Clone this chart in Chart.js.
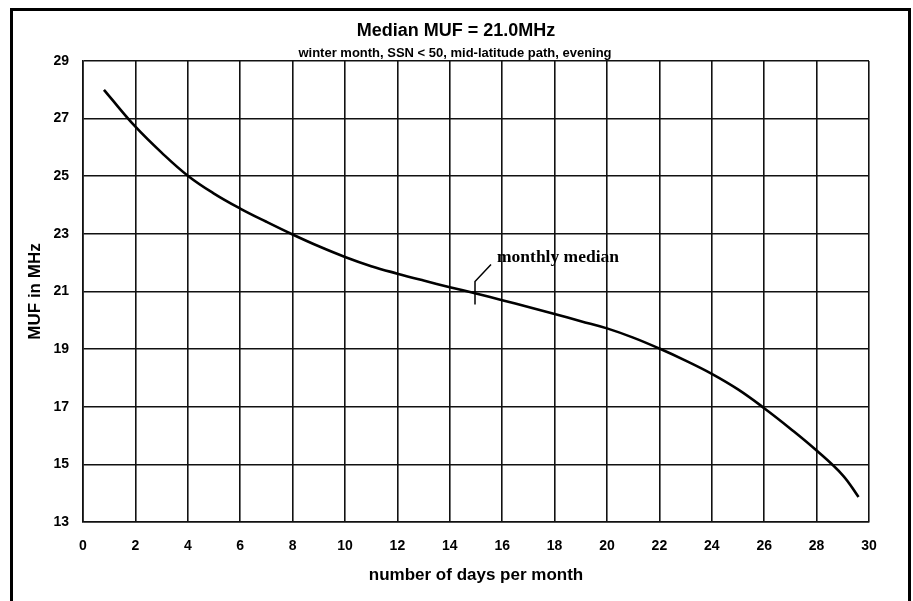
<!DOCTYPE html>
<html>
<head>
<meta charset="utf-8">
<title>Median MUF</title>
<script src="https://cdn.jsdelivr.net/npm/chart.js@4.4.1/dist/chart.umd.min.js"></script>
<style>
  html, body { margin: 0; padding: 0; background: #fff; }
  #wrap { width: 913px; height: 601px; }
</style>
</head>
<body>
<div id="wrap"><canvas id="chart" width="913" height="601"></canvas></div>
<script>
// ===== Data =====
const days = [0.8, 1, 2, 3, 4, 5, 6, 7, 8, 9, 10, 11, 12, 13, 14, 15,
  16, 17, 18, 19, 20, 21, 22, 23, 24, 25, 26, 27, 28, 29, 29.6];
const mufValues = [28.0, 27.78, 26.72, 25.82, 25.02, 24.4, 23.88, 23.42, 22.98, 22.57, 22.2, 21.88, 21.62, 21.38, 21.15, 20.93,
  20.7, 20.46, 20.22, 19.97, 19.72, 19.4, 19.02, 18.6, 18.14, 17.6, 16.95, 16.24, 15.48, 14.62, 13.87];
const xTicks = [0, 2, 4, 6, 8, 10, 12, 14, 16, 18, 20, 22, 24, 26, 28, 30];
const yTicks = [13, 15, 17, 19, 21, 23, 25, 27, 29];

const titleText = 'Median MUF = 21.0MHz';
const subtitleText = 'winter month, SSN < 50, mid-latitude path, evening';
const xTitle = 'number of days per month';
const yTitle = 'MUF in MHz';
const medianDay = 15;
const medianMuf = 21.0;
const medianLabel = 'monthly median';

const ink = '#111';

// ===== Plugins =====
const framePlugin = {
  id: 'frame',
  beforeDraw(chart) {
    const ctx = chart.ctx;
    ctx.save();
    ctx.fillStyle = '#fff';
    ctx.fillRect(0, 0, chart.width, chart.height);
    ctx.restore();
  },
  afterDraw(chart) {
    const ctx = chart.ctx;
    ctx.save();
    // outer frame (runs off the bottom like the scan)
    ctx.strokeStyle = '#000';
    ctx.lineWidth = 3;
    ctx.strokeRect(11.5, 9.5, 898, chart.height + 10);

    ctx.fillStyle = '#000';
    ctx.textAlign = 'center';
    ctx.textBaseline = 'middle';
    ctx.font = 'bold 18px "Liberation Sans", Arial, sans-serif';
    ctx.fillText(titleText, 456, 31);
    ctx.font = 'bold 13px "Liberation Sans", Arial, sans-serif';
    ctx.fillText(subtitleText, 455, 53);
    ctx.restore();
  }
};

const medianPlugin = {
  id: 'median',
  afterDatasetsDraw(chart) {
    const {ctx, scales: {x, y}} = chart;
    const px = x.getPixelForValue(medianDay) - 1;
    const py = y.getPixelForValue(medianMuf);
    ctx.save();
    ctx.strokeStyle = '#000';
    ctx.lineWidth = 1.5;
    ctx.beginPath();
    ctx.moveTo(px, py + 13);
    ctx.lineTo(px, py - 10);
    ctx.lineTo(px + 16, py - 27);
    ctx.stroke();
    ctx.fillStyle = '#000';
    ctx.font = 'bold 17.5px "Liberation Serif", "Times New Roman", serif';
    ctx.textAlign = 'left';
    ctx.textBaseline = 'alphabetic';
    ctx.fillText(medianLabel, px + 22, py - 30);
    ctx.restore();
  }
};

// ===== Chart =====
const tickFont = { family: '"Liberation Sans", Arial, sans-serif', size: 14, weight: 'bold' };
const titleFont = { family: '"Liberation Sans", Arial, sans-serif', size: 17, weight: 'bold' };

new Chart(document.getElementById('chart'), {
  type: 'line',
  data: {
    datasets: [{
      data: days.map((d, i) => ({ x: d, y: mufValues[i] })),
      borderColor: '#000',
      borderWidth: 2.6,
      pointRadius: 0,
      tension: 0.4,
      fill: false
    }]
  },
  options: {
    responsive: false,
    animation: false,
    layout: { padding: { top: 61, left: 0, right: 44, bottom: 0 } },
    plugins: {
      legend: { display: false },
      title: { display: false },
      tooltip: { enabled: false }
    },
    scales: {
      x: {
        type: 'linear',
        min: 0,
        max: 30,
        afterBuildTicks: s => { s.ticks = xTicks.map(v => ({ value: v })); },
        afterFit: s => { s.height = 79; },
        grid: { color: ink, lineWidth: 1.6, drawTicks: false },
        border: { color: ink, width: 1.6 },
        ticks: { color: '#000', font: tickFont, padding: 16, maxRotation: 0 },
        title: { display: true, text: xTitle, color: '#000', font: titleFont, padding: { top: 0, bottom: 15 } }
      },
      y: {
        type: 'linear',
        min: 13,
        max: 29,
        afterBuildTicks: s => { s.ticks = yTicks.map(v => ({ value: v })); },
        afterFit: s => { s.width = 83; },
        grid: { color: ink, lineWidth: 1.6, drawTicks: false },
        border: { color: ink, width: 1.6 },
        ticks: { color: '#000', font: tickFont, padding: 14 },
        title: { display: true, text: yTitle, color: '#000', font: titleFont, padding: { top: 25, bottom: 0 } }
      }
    }
  },
  plugins: [framePlugin, medianPlugin]
});
</script>
</body>
</html>
